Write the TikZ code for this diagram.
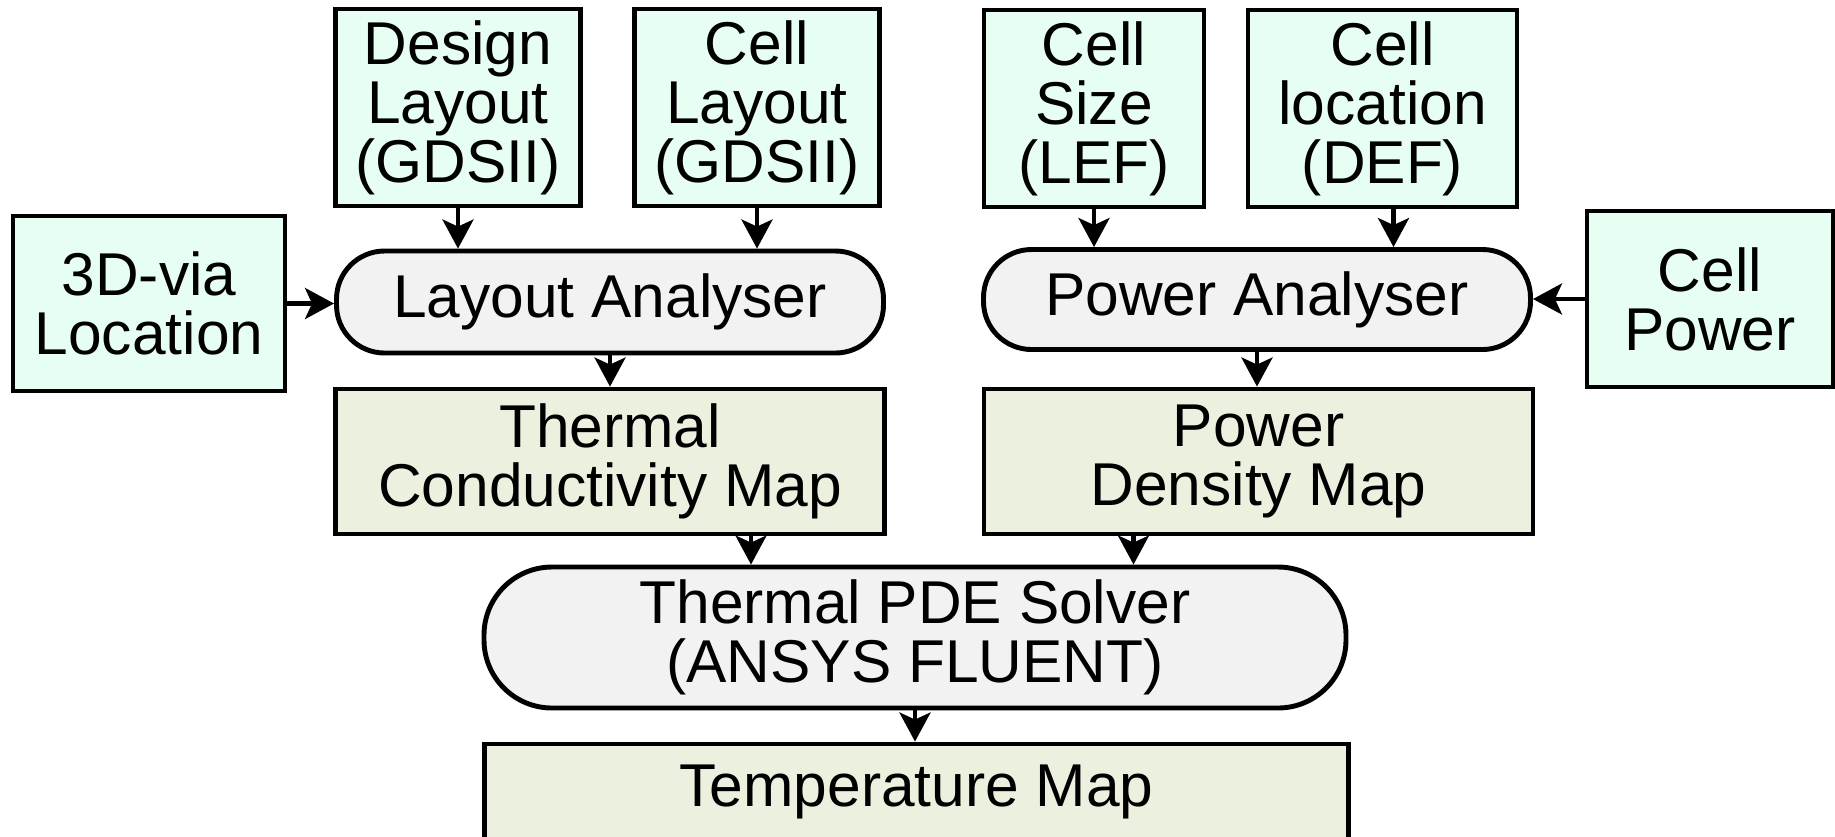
\documentclass[tikz,border=0pt]{standalone}
\usepackage{fontspec}
\setmainfont{Liberation Sans}
\usetikzlibrary{arrows.meta}
\definecolor{infill}{HTML}{E6FFF2}
\definecolor{procfill}{HTML}{F2F2F2}
\definecolor{mapfill}{HTML}{EBF1DE}

\begin{document}
\begin{tikzpicture}[
  font=\fontsize{17.2}{16.8}\selectfont,
  inp/.style={draw=black, line width=1.4pt, fill=infill, align=center, inner sep=0pt,
              minimum width=#1, minimum height=19.7mm},
  inp/.default=24.5mm,
  proc/.style={draw=black, line width=1.4pt, fill=procfill, align=center, inner sep=0pt,
               minimum width=#1, minimum height=10mm, rounded corners=4.8mm},
  proc/.default=54.7mm,
  map/.style={draw=black, line width=1.4pt, fill=mapfill, align=center, inner sep=0pt,
              minimum width=#1, minimum height=14.5mm},
  map/.default=54.9mm,
  arr/.style={-{Stealth[length=2.9mm, width=3.1mm, inset=0.7mm]}, line width=1.2pt, black}]
\useasboundingbox (0,0) rectangle (18.35,-8.36);
\node[inp] (design)   at (4.58, -1.075)  {Design\\Layout\\(GDSII)};
\node[inp] (celllay)  at (7.57, -1.075)  {Cell\\Layout\\(GDSII)};
\node[inp=22mm] (cellsize) at (10.94, -1.085) {Cell\\Size\\(LEF)};
\node[inp=26.9mm] (cellloc) at (13.825, -1.085) {Cell\\location\\(DEF)};
\node[inp=27.2mm, minimum height=17.5mm] (via)     at (1.49, -3.035) {3D-via\\Location};
\node[inp=24.6mm, minimum height=17.6mm] (cellpow) at (17.10, -2.99) {Cell\\Power};
\node[proc, minimum height=10.2mm] (layan) at (6.10, -3.02)  {Layout Analyser};
\node[proc] (powan) at (12.57, -2.995) {Power Analyser};
\node[map] (tcmap) at (6.10, -4.615)  {Thermal\\Conductivity Map};
\node[map] (pdmap) at (12.585, -4.615) {Power\\Density Map};
\node[proc=86.2mm, minimum height=14.1mm, rounded corners=6.8mm] (pde) at (9.15, -6.375) {Thermal PDE Solver\\(ANSYS FLUENT)};
\node[map=86.4mm, minimum height=9.6mm] (temp) at (9.165, -7.92) {Temperature Map};
\foreach \a/\b in {design/layan, celllay/layan, cellsize/powan, layan/tcmap, powan/pdmap, pde/temp}
  \draw[arr] (\a.south) -- (\a.south |- \b.north);
\draw[arr] ([xshift=1.1mm]cellloc.south) -- ([xshift=1.1mm]cellloc.south |- powan.north);
\draw[arr] ([xshift=14.1mm]tcmap.south) -- ([xshift=14.1mm]tcmap.south |- pde.north);
\draw[arr] ([xshift=-12.5mm]pdmap.south) -- ([xshift=-12.5mm]pdmap.south |- pde.north);
\draw[arr] (via.east) -- (via.east -| layan.west);
\draw[arr] (cellpow.west) -- (cellpow.west -| powan.east);
\end{tikzpicture}
\end{document}
